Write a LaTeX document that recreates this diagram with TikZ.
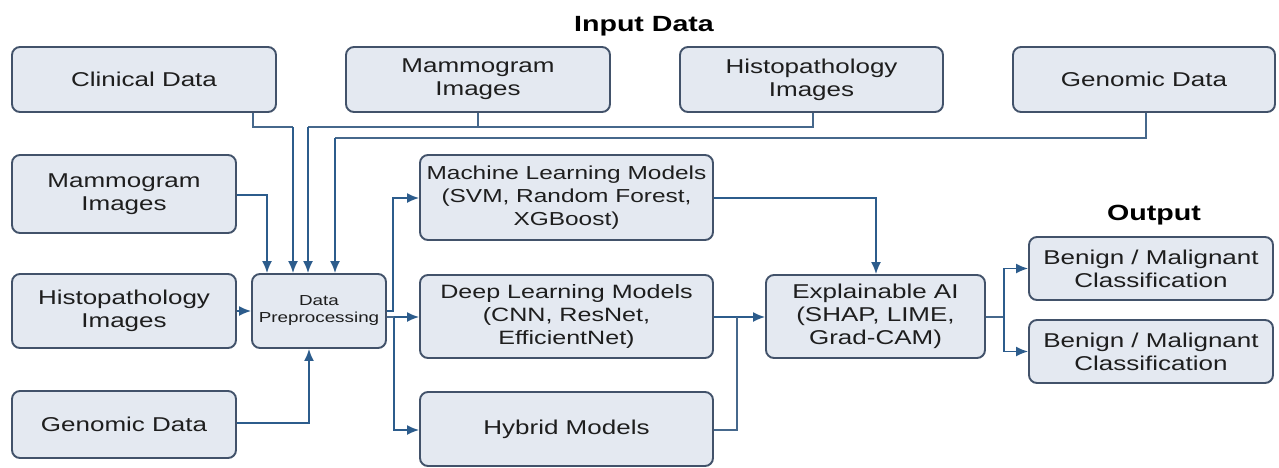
\documentclass[tikz,border=0pt]{standalone}
\usepackage{fontspec}
\setmainfont[FakeStretch=1.3]{Liberation Sans}
\usetikzlibrary{arrows.meta,calc}
\definecolor{boxfill}{HTML}{E4E9F1}
\definecolor{boxline}{HTML}{42526A}
\definecolor{arrowc}{HTML}{2C5C8C}
\definecolor{linec}{HTML}{46688C}
\definecolor{txt}{HTML}{1E1E1E}
\begin{document}
\begin{tikzpicture}[x=1pt,y=-1pt,
  box/.style={draw=boxline, fill=boxfill, line width=1.9pt, rounded corners=8pt,
    inner sep=0pt, align=center, text=txt, font=\fontsize{20}{23}\selectfont},
  conn/.style={draw=linec, line width=1.7pt},
  arr/.style={draw=arrowc, line width=1.7pt, -{Latex[length=12pt,width=10pt]}},
  heading/.style={font=\bfseries\fontsize{22}{26}\selectfont, text=black}]

\fill[white] (0,0) rectangle (1279,467);
\useasboundingbox (0,0) rectangle (1279,467);

% headings
\node[heading] (inhead) at (644,26) {Input Data};
\node[heading] (outhead) at (1154,215) {Output};

% top row of inputs
\node[box, minimum width=264pt, minimum height=65pt] (cd) at (144,79.5) {Clinical Data};
\node[box, minimum width=264pt, minimum height=65pt] (mt) at (478,79.5) {Mammogram\\Images};
\node[box, minimum width=263pt, minimum height=65pt] (ht) at (811.5,79.5) {Histopathology\\Images};
\node[box, minimum width=262pt, minimum height=65pt] (gt) at (1144,79.5) {Genomic Data};

% left column of inputs
\node[box, minimum width=224pt, minimum height=78pt] (ml) at (124,194) {Mammogram\\Images};
\node[box, minimum width=224pt, minimum height=74pt] (hl) at (124,311) {Histopathology\\Images};
\node[box, minimum width=224pt, minimum height=67pt] (gl) at (124,424.5) {Genomic Data};

% preprocessing
\node[box, minimum width=134pt, minimum height=74pt, font=\fontsize{14.5}{17}\selectfont] (dp) at (319,311) {Data\\Preprocessing};

% models
\node[box, minimum width=293pt, minimum height=85pt, font=\fontsize{18.8}{23}\selectfont] (mlm) at (566.5,197.5) {Machine Learning Models\\(SVM, Random Forest,\\XGBoost)};
\node[box, minimum width=293pt, minimum height=83pt, font=\fontsize{19.3}{23}\selectfont] (dlm) at (566.5,316.5) {Deep Learning Models\\(CNN, ResNet,\\EfficientNet)};
\node[box, minimum width=293pt, minimum height=74pt] (hym) at (566.5,429) {Hybrid Models};

% explainability and outputs
\node[box, minimum width=219pt, minimum height=83pt] (xai) at (875.5,316.5) {Explainable AI\\(SHAP, LIME,\\Grad-CAM)};
\node[box, minimum width=244pt, minimum height=63pt] (b1) at (1151,268.5) {Benign / Malignant\\Classification};
\node[box, minimum width=244pt, minimum height=63pt] (b2) at (1151,351.5) {Benign / Malignant\\Classification};

% routing points
\coordinate (cdx) at (293,0);
\coordinate (mtx) at (308,0);
\coordinate (gtx) at (335,0);
\coordinate (mlx) at (267,0);
\coordinate (glx) at (309,0);
\coordinate (busA) at (0,127);
\coordinate (busB) at (0,138);
\coordinate (spl) at (393,311);
\coordinate (spl2) at (394,317);
\coordinate (mrg) at (737,317);
\coordinate (xtop) at (876,0);
\coordinate (fork) at (1004,317);

% inputs into preprocessing
\draw[conn] (cd.south -| 253,0) |- (busA -| cdx);
\draw[arr] (busA -| cdx) -- (cdx |- dp.north);
\draw[conn] (mt.south) |- (busA -| mtx);
\draw[conn] (ht.south -| 813,0) |- (busA -| mt.south);
\draw[arr] (busA -| mtx) -- (mtx |- dp.north);
\draw[conn] (gt.south -| 1146,0) |- (busB -| gtx);
\draw[arr] (busB -| gtx) -- (gtx |- dp.north);
\draw[arr] (ml.east |- 0,195) -| (mlx |- dp.north);
\draw[arr] (hl.east) -- (dp.west);
\draw[arr] (gl.east |- 0,423) -| (glx |- dp.south);

% preprocessing into models
\draw[arr] (dp.east) -- (spl) |- (mlm.west |- 0,198);
\draw[arr] (spl2) -- (dlm.west |- spl2);
\draw[arr] (spl2) |- (hym.west |- 0,430);
\draw[conn] (dp.east |- spl2) -- (spl2);

% models into explainable AI
\draw[arr] (mlm.east |- 0,198) -| (xtop |- xai.north);
\draw[arr] (dlm.east |- mrg) -- (xai.west |- mrg);
\draw[conn] (hym.east |- 0,430) -| (mrg);

% explainable AI into outputs
\draw[conn] (xai.east |- fork) -- (fork);
\draw[arr] (fork) |- (b1.west);
\draw[arr] (fork) |- (b2.west);
\end{tikzpicture}
\end{document}
